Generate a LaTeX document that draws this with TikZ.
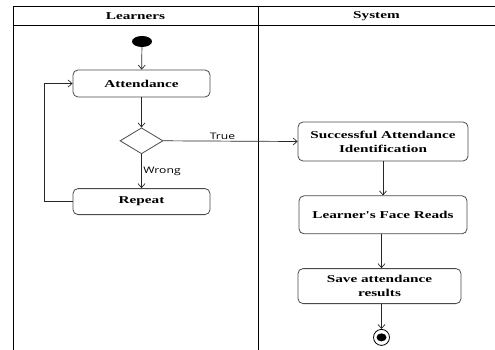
\documentclass[tikz,border=0pt]{standalone}
\usepackage{fontspec}
\usepackage{tikz}
\usetikzlibrary{arrows.meta, positioning, shapes.geometric}
\newfontfamily\umlfont[FakeStretch=1.45]{Liberation Serif}
\newfontfamily\guardfont[FakeStretch=1.35]{Open Sans}
\definecolor{boxgray}{HTML}{4A4A4A}

\begin{document}
\begin{tikzpicture}[
        x=1pt, y=-1pt,
        >={Straight Barb[length=4pt, width=7pt]},
        lane/.style={draw=black, line width=0.9pt},
        lanehead/.style={font=\umlfont\bfseries\fontsize{10.5}{12}\selectfont},
        action/.style={rectangle, draw=boxgray, line width=0.8pt, rounded corners=5pt,
                fill=white, inner sep=0pt, align=center,
                font=\umlfont\bfseries\fontsize{10.5}{14}\selectfont},
        decision/.style={diamond, draw=boxgray, line width=0.8pt, fill=white,
                inner sep=0pt, minimum width=43pt, minimum height=26pt},
        startstate/.style={ellipse, fill=black, inner sep=0pt,
                minimum width=20pt, minimum height=11pt},
        endstate/.style={circle, draw=black, line width=0.8pt, inner sep=0pt,
                minimum size=16pt, path picture={\fill[black]
                (path picture bounding box.center) ellipse (5pt and 4pt);}},
        flow/.style={->, draw=black!85, line width=0.7pt},
        guard/.style={font=\guardfont\fontsize{9}{10}\selectfont, inner sep=1.5pt}, ]

        \useasboundingbox (0,0) rectangle (495,350);

        % === SWIMLANES ===
        \draw[lane] (13,350) -- (13,6) -- (495,6);
        \draw[lane] (13,25) -- (495,25);
        \draw[lane] (258,6) -- (258,350);
        \node[lanehead] (learners) at (135.5,16) {Learners};
        \node[lanehead] (system) at (376.5,16) {System};

        % === LEARNERS LANE ===
        \node[startstate] (start) at (142,41.5) {};
        \node[action, minimum width=137pt, minimum height=27pt] (attend) at (141.5,83.5) {Attendance};
        \node[decision, below=30pt of attend] (check) {};
        \node[action, minimum width=137pt, minimum height=26pt, below=34pt of check] (repeat) {Repeat};

        % === SYSTEM LANE ===
        \node[action, minimum width=170pt, minimum height=39pt] (success) at (383,141.5)
            {Successful Attendance\\Identification};
        \node[action, minimum width=168pt, minimum height=38pt, below=34pt of success] (face)
            {Learner's Face Reads};
        \node[action, minimum width=163pt, minimum height=35pt, below=34pt of face, xshift=-3.5pt] (save)
            {Save attendance\\results};
        \node[endstate, below=25pt of save, xshift=2pt] (finish) {};

        % Connections
        \draw[flow] (start) -- (attend);
        \draw[flow] (attend) -- (check);
        \draw[flow] (check) -- node[guard, right] {Wrong} (repeat);
        \draw[flow] (repeat.west) -- ++(-28,0) |- (attend.west);
        \draw[flow] (check.east) -- node[guard, above, pos=0.44] {True} (success.west);
        \draw[flow] (success) -- (face);
        \draw[flow] (finish |- face.south) -- (finish |- save.north);
        \draw[flow] (finish |- save.south) -- (finish);
    \end{tikzpicture}
\end{document}
